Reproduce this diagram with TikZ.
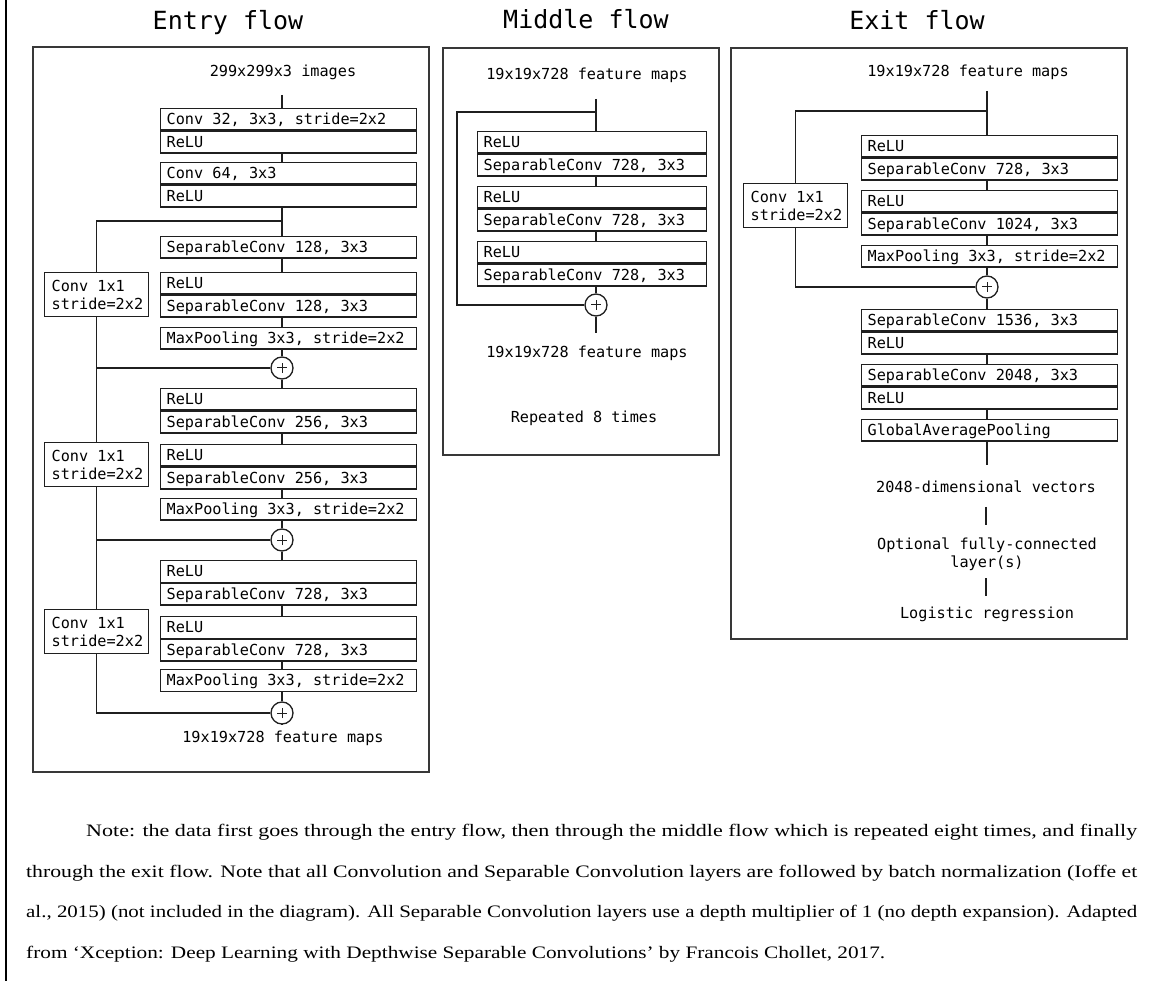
\documentclass[tikz,border=0pt]{standalone}
\usepackage{fontspec}
\usepackage{graphicx}
\setmainfont{Liberation Serif}
\newfontfamily\codefont{DejaVu Sans Mono}
\usetikzlibrary{calc}

\tikzset{
  panel/.style={draw=black!78, line width=1.5pt},
  title/.style={font=\codefont\fontsize{25}{30}\selectfont, inner sep=0pt, anchor=base},
  lbl/.style={font=\codefont\fontsize{15.2}{18}\selectfont, inner sep=0pt, align=flush center, anchor=base},
  layer/.style={draw=black!88, line width=1.3pt, anchor=north west,
    font=\codefont\fontsize{15.2}{18}\selectfont, inner xsep=6pt, inner ysep=0pt,
    minimum height=21.5pt, text height=12.5pt, text depth=1.5pt, align=flush left},
  widelayer/.style={layer, text width=244pt},
  midlayer/.style={layer, text width=217pt},
  shortcut/.style={draw=black!88, line width=1.3pt, anchor=north west,
    font=\codefont\fontsize{15.2}{18}\selectfont, inner xsep=7pt, inner ysep=0pt,
    text width=90pt, minimum height=44pt, align=flush left},
  addop/.style={circle, draw=black!88, line width=1.3pt, minimum size=22pt, inner sep=0pt,
    path picture={
      \draw[line width=1pt] ([xshift=-5pt]path picture bounding box.center) -- ([xshift=5pt]path picture bounding box.center);
      \draw[line width=1pt] ([yshift=-5pt]path picture bounding box.center) -- ([yshift=5pt]path picture bounding box.center);
    }},
  link/.style={draw=black!88, line width=1.3pt},
  noteline/.style={font=\fontsize{17.5}{20}\selectfont, inner sep=0pt, anchor=base west}
}

\begin{document}
\begin{tikzpicture}[x=1pt, y=-1pt]
\useasboundingbox (0,0) rectangle (1152,981);
\fill[white] (0,0) rectangle (1152,981);

% page margin rule
\draw[line width=2pt] (6,0) -- (6,981);

% ---------------- Entry flow ----------------
\node[title] (tEntry) at (228,30) {Entry flow};
\draw[panel] (33,47) rectangle (429,772);
\node[lbl] (ein) at (283,77) {299x299x3 images};
\coordinate (etop) at (282,95);

\node[widelayer] (e1a) at (160,108) {Conv 32, 3x3, stride=2x2};
\node[widelayer] (e1b) at (e1a.south west) {ReLU};
\node[widelayer] (e2a) at (160,162) {Conv 64, 3x3};
\node[widelayer] (e2b) at (e2a.south west) {ReLU};
\coordinate (eb1) at (282,221);
\node[widelayer] (e3) at (160,236) {SeparableConv 128, 3x3};
\node[widelayer] (e4a) at (160,272) {ReLU};
\node[widelayer] (e4b) at (e4a.south west) {SeparableConv 128, 3x3};
\node[widelayer] (e5) at (160,327) {MaxPooling 3x3, stride=2x2};
\node[addop] (p1) at (282,368) {};
\node[widelayer] (e6a) at (160,388) {ReLU};
\node[widelayer] (e6b) at (e6a.south west) {SeparableConv 256, 3x3};
\node[widelayer] (e7a) at (160,444) {ReLU};
\node[widelayer] (e7b) at (e7a.south west) {SeparableConv 256, 3x3};
\node[widelayer] (e8) at (160,498) {MaxPooling 3x3, stride=2x2};
\node[addop] (p2) at (282,540) {};
\node[widelayer] (e9a) at (160,560) {ReLU};
\node[widelayer] (e9b) at (e9a.south west) {SeparableConv 728, 3x3};
\node[widelayer] (e10a) at (160,616) {ReLU};
\node[widelayer] (e10b) at (e10a.south west) {SeparableConv 728, 3x3};
\node[widelayer] (e11) at (160,669) {MaxPooling 3x3, stride=2x2};
\node[addop] (p3) at (282,713) {};
\coordinate (eend) at (282,724);
\node[lbl] (eout) at (283,742) {19x19x728 feature maps};

\node[shortcut] (s1) at (44,272) {Conv 1x1\\stride=2x2};
\node[shortcut] (s2) at (44,442) {Conv 1x1\\stride=2x2};
\node[shortcut] (s3) at (44,609) {Conv 1x1\\stride=2x2};

% main path
\draw[link] (etop) -- (etop |- e1a.north);
\draw[link] (etop |- e1b.south) -- (etop |- e2a.north);
\draw[link] (etop |- e2b.south) -- (etop |- e3.north);
\draw[link] (etop |- e3.south) -- (etop |- e4a.north);
\draw[link] (etop |- e4b.south) -- (etop |- e5.north);
\draw[link] (etop |- e5.south) -- (p1.north);
\draw[link] (p1.south) -- (p1.south |- e6a.north);
\draw[link] (etop |- e6b.south) -- (etop |- e7a.north);
\draw[link] (etop |- e7b.south) -- (etop |- e8.north);
\draw[link] (etop |- e8.south) -- (p2.north);
\draw[link] (p2.south) -- (p2.south |- e9a.north);
\draw[link] (etop |- e9b.south) -- (etop |- e10a.north);
\draw[link] (etop |- e10b.south) -- (etop |- e11.north);
\draw[link] (etop |- e11.south) -- (p3.north);
\draw[link] (p3.south) -- (eend);
% residual branches
\draw[link] (eb1) -| (s1.north);
\draw[link] (s1.south) |- (p1.west);
\draw[link] (p1.west) -| (s2.north);
\draw[link] (s2.south) |- (p2.west);
\draw[link] (p2.west) -| (s3.north);
\draw[link] (s3.south) |- (p3.west);

% ---------------- Middle flow ----------------
\node[title] (tMiddle) at (586,29) {Middle flow};
\draw[panel] (443,48) rectangle (719,455);
\node[lbl] (min) at (587,80) {19x19x728 feature maps};
\coordinate (mtop) at (596,99);
\coordinate (mb) at (596,112);
\coordinate (mleft) at (457,112);
\node[midlayer] (m1a) at (477,131) {ReLU};
\node[midlayer] (m1b) at (m1a.south west) {SeparableConv 728, 3x3};
\node[midlayer] (m2a) at (477,186) {ReLU};
\node[midlayer] (m2b) at (m2a.south west) {SeparableConv 728, 3x3};
\node[midlayer] (m3a) at (477,241) {ReLU};
\node[midlayer] (m3b) at (m3a.south west) {SeparableConv 728, 3x3};
\node[addop] (mp) at (596,305) {};
\coordinate (mend) at (596,333);
\node[lbl] (mout) at (587,358) {19x19x728 feature maps};
\node[lbl] (mrep) at (584,423) {Repeated 8 times};

\draw[link] (mtop) -- (mtop |- m1a.north);
\draw[link] (mtop |- m1b.south) -- (mtop |- m2a.north);
\draw[link] (mtop |- m2b.south) -- (mtop |- m3a.north);
\draw[link] (mtop |- m3b.south) -- (mp.north);
\draw[link] (mp.south) -- (mend);
\draw[link] (mb) -- (mleft) |- (mp.west);

% ---------------- Exit flow ----------------
\node[title] (tExit) at (917,30) {Exit flow};
\draw[panel] (731,48) rectangle (1127,639);
\node[lbl] (xin) at (968,77) {19x19x728 feature maps};
\coordinate (xtop) at (987,91);
\coordinate (xb) at (987,111);
\node[widelayer] (x1a) at (861,135) {ReLU};
\node[widelayer] (x1b) at (x1a.south west) {SeparableConv 728, 3x3};
\node[widelayer] (x2a) at (861,190) {ReLU};
\node[widelayer] (x2b) at (x2a.south west) {SeparableConv 1024, 3x3};
\node[widelayer] (x3) at (861,245) {MaxPooling 3x3, stride=2x2};
\node[addop] (xp) at (987,287) {};
\node[widelayer] (x4a) at (861,309) {SeparableConv 1536, 3x3};
\node[widelayer] (x4b) at (x4a.south west) {ReLU};
\node[widelayer] (x5a) at (861,364) {SeparableConv 2048, 3x3};
\node[widelayer] (x5b) at (x5a.south west) {ReLU};
\node[widelayer] (x6) at (861,419) {GlobalAveragePooling};
\coordinate (xend) at (987,465);
\node[shortcut] (xs) at (743,183) {Conv 1x1\\stride=2x2};

\node[lbl] (vec) at (986,493) {2048-dimensional vectors};
\coordinate (v1) at (986,507);
\coordinate (v2) at (986,525);
\node[lbl] (fc) at (987,567) {Optional fully-connected\\layer(s)};
\coordinate (f1) at (986,578);
\coordinate (f2) at (986,596);
\node[lbl] (logreg) at (987,618) {Logistic regression};

\draw[link] (xtop) -- (xtop |- x1a.north);
\draw[link] (xtop |- x1b.south) -- (xtop |- x2a.north);
\draw[link] (xtop |- x2b.south) -- (xtop |- x3.north);
\draw[link] (xtop |- x3.south) -- (xp.north);
\draw[link] (xp.south) -- (xp.south |- x4a.north);
\draw[link] (xtop |- x4b.south) -- (xtop |- x5a.north);
\draw[link] (xtop |- x5b.south) -- (xtop |- x6.north);
\draw[link] (xtop |- x6.south) -- (xend);
\draw[link] (xb) -| (xs.north);
\draw[link] (xs.south) |- (xp.west);
\draw[link] (v1) -- (v2);
\draw[link] (f1) -- (f2);

% ---------------- Note ----------------
\node[noteline] (c1) at (86,836) {\resizebox{1051pt}{\height}{Note: the data first goes through the entry flow, then through the middle flow which is repeated eight times, and finally}};
\node[noteline] (c2) at (26,877) {\resizebox{1111pt}{\height}{through the exit flow. Note that all Convolution and Separable Convolution layers are followed by batch normalization (Ioffe et}};
\node[noteline] (c3) at (26,917) {\resizebox{1111pt}{\height}{al., 2015) (not included in the diagram). All Separable Convolution layers use a depth multiplier of 1 (no depth expansion). Adapted}};
\node[noteline] (c4) at (26,958) {\resizebox{859pt}{\height}{from ‘Xception: Deep Learning with Depthwise Separable Convolutions’ by Francois Chollet, 2017.}};
\end{tikzpicture}
\end{document}
